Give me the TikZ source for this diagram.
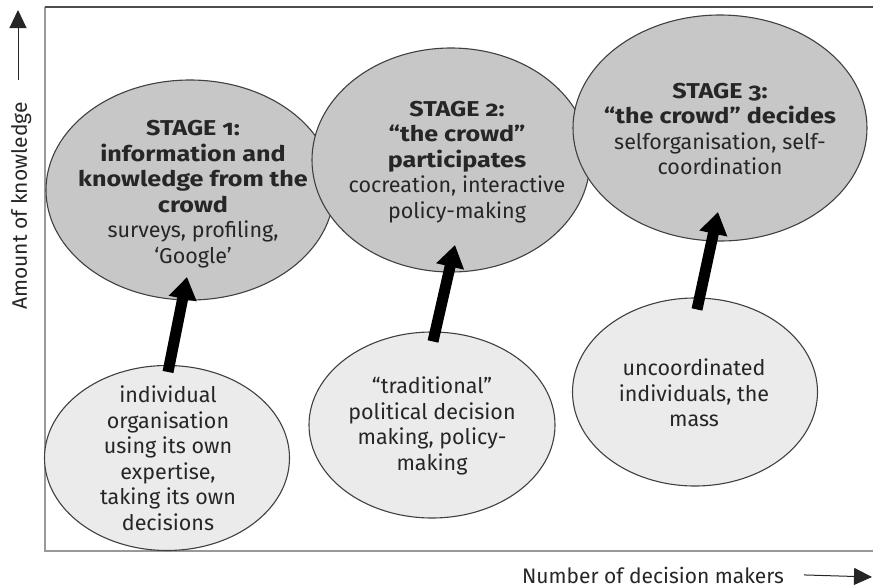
\documentclass[tikz,border=0pt]{standalone}
\usepackage{fontspec}
\setmainfont{Fira Sans}[Numbers=OldStyle, BoldFeatures={FakeStretch=1.17}]
\usetikzlibrary{shapes.geometric,arrows.meta,calc}
\begin{document}
\begin{tikzpicture}[x=1pt,y=-1pt,
  stage/.style={ellipse, draw=black!75, line width=1.1pt, fill=black!22, inner sep=0pt},
  base/.style={ellipse, draw=black!75, line width=1.1pt, fill=black!8, inner sep=0pt},
  txt/.style={align=center, font=\fontsize{21.5}{25.5}\selectfont, text=black!85, inner sep=0pt},
  axlab/.style={font=\fontsize{21}{25}\selectfont, text=black!85, inner sep=0pt, anchor=base},
  push/.style={line width=11pt, -{Triangle[width=27pt,length=22pt]}},
  axis/.style={line width=1pt, black!85, -{Triangle[width=17pt,length=18pt]}},
]
\useasboundingbox (0,0) rectangle (873,587);

% frame of the chart
\draw[black!40, line width=2pt] (45,7) -- (45,551) -- (873,551);
\draw[black!70, line width=1.2pt] (45,7) -- (873,7);

% stages (upper row), drawn left to right so each overlaps the previous
\node[stage, minimum width=288pt, minimum height=220pt] (s1) at (190,190) {};
\node[stage, minimum width=278pt, minimum height=224pt] (s2) at (451,160) {};
\node[stage, minimum width=294pt, minimum height=226pt] (s3) at (720,128) {};

% starting situations (lower row)
\node[base, minimum width=245pt, minimum height=185pt] (b1) at (167,458) {};
\node[base, minimum width=246pt, minimum height=186pt] (b2) at (432,425) {};
\node[base, minimum width=245pt, minimum height=188pt] (b3) at (695,392) {};

% texts
\node[txt] (s1t) at (193,194) {\textbf{STAGE 1:}\\\textbf{information and}\\\textbf{knowledge from the}\\\textbf{crowd}\\surveys, profiling,\\‘Google’};
\node[txt] (s2t) at (457,162) {\textbf{STAGE 2:}\\\textbf{“the crowd”}\\\textbf{participates}\\cocreation, interactive\\policy-making};
\node[txt] (s3t) at (720,129) {\textbf{STAGE 3:}\\\textbf{“the crowd” decides}\\selforganisation, self-\\coordination};
\node[txt] (b1t) at (168,458) {individual\\organisation\\using its own\\expertise,\\taking its own\\decisions};
\node[txt] (b2t) at (432,426) {“traditional”\\political decision\\making, policy-\\making};
\node[txt] (b3t) at (694,393) {uncoordinated\\individuals, the\\mass};

% transitions
\coordinate (t1) at (187,277);
\coordinate (t2) at (455,245);
\coordinate (t3) at (718,212);
\draw[push] ($(b1.north)+(1,7)$) -- (t1);
\draw[push] ($(b2.north)+(1,10)$) -- (t2);
\draw[push] ($(b3.north)+(2,12)$) -- (t3);

% axes
\node[axlab, rotate=90] (ylab) at (27,206) {Amount of knowledge};
\coordinate (ytip) at (18,10);
\coordinate (ytail) at (18,80);
\draw[axis] (ytail) -- (ytip);
\node[axlab] (xlab) at (653,583) {Number of decision makers};
\coordinate (xtip) at (872,577);
\draw[axis] ($(xlab.east)+(20,0)$) -- (xtip);
\end{tikzpicture}
\end{document}
